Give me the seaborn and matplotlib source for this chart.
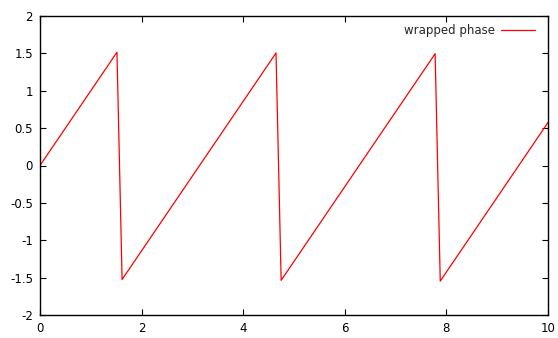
import numpy as np
import pandas as pd
import seaborn as sns
import matplotlib
matplotlib.use("Agg")
import matplotlib.pyplot as plt

# vertices of the wrapped phase curve
x_vals = [0.0, 1.515, 1.616, 4.646, 4.747, 7.778, 7.879, 10.0]
phase_vals = [0.0, 1.515, -1.525, 1.505, -1.536, 1.495, -1.546, 0.575]

x_ticks = [0, 2, 4, 6, 8, 10]
y_ticks = [-2, -1.5, -1, -0.5, 0, 0.5, 1, 1.5, 2]
y_labels = ['-2', '-1.5', '-1', '-0.5', '0', '0.5', '1', '1.5', '2']

df = pd.DataFrame({'x': x_vals, 'phase': phase_vals})

sns.set_style('white')
plt.rcParams['font.family'] = ['DejaVu Sans']

fig = plt.figure(figsize=(5.58, 3.38), dpi=100)
ax = fig.add_axes([40 / 558, 1 - 315 / 338, 508 / 558, 299 / 338])

sns.lineplot(data=df, x='x', y='phase', color='red', linewidth=0.9,
             label='wrapped phase', ax=ax, sort=False)

ax.set_xlim(0, 10)
ax.set_ylim(-2, 2)
ax.set_xticks(x_ticks)
ax.set_xticklabels([str(t) for t in x_ticks])
ax.set_yticks(y_ticks)
ax.set_yticklabels(y_labels)
ax.set_xlabel('')
ax.set_ylabel('')

for sp in ax.spines.values():
    sp.set_visible(True)
    sp.set_color('black')
    sp.set_linewidth(1.0)

ax.tick_params(direction='in', length=4.5, width=0.8, color='black',
               top=True, right=True, bottom=True, left=True,
               labelsize=8.5, labelcolor='black', pad=5)

# legend sits high in the top right corner, text before the line sample
leg = ax.legend(loc='upper right', frameon=False, markerfirst=False,
                fontsize=8.5, handlelength=2.9, handletextpad=0.5,
                bbox_to_anchor=(1 - 8.3 / 508, 1 - 3.0 / 299),
                borderaxespad=0)

fig.savefig('out.png', dpi=100)
